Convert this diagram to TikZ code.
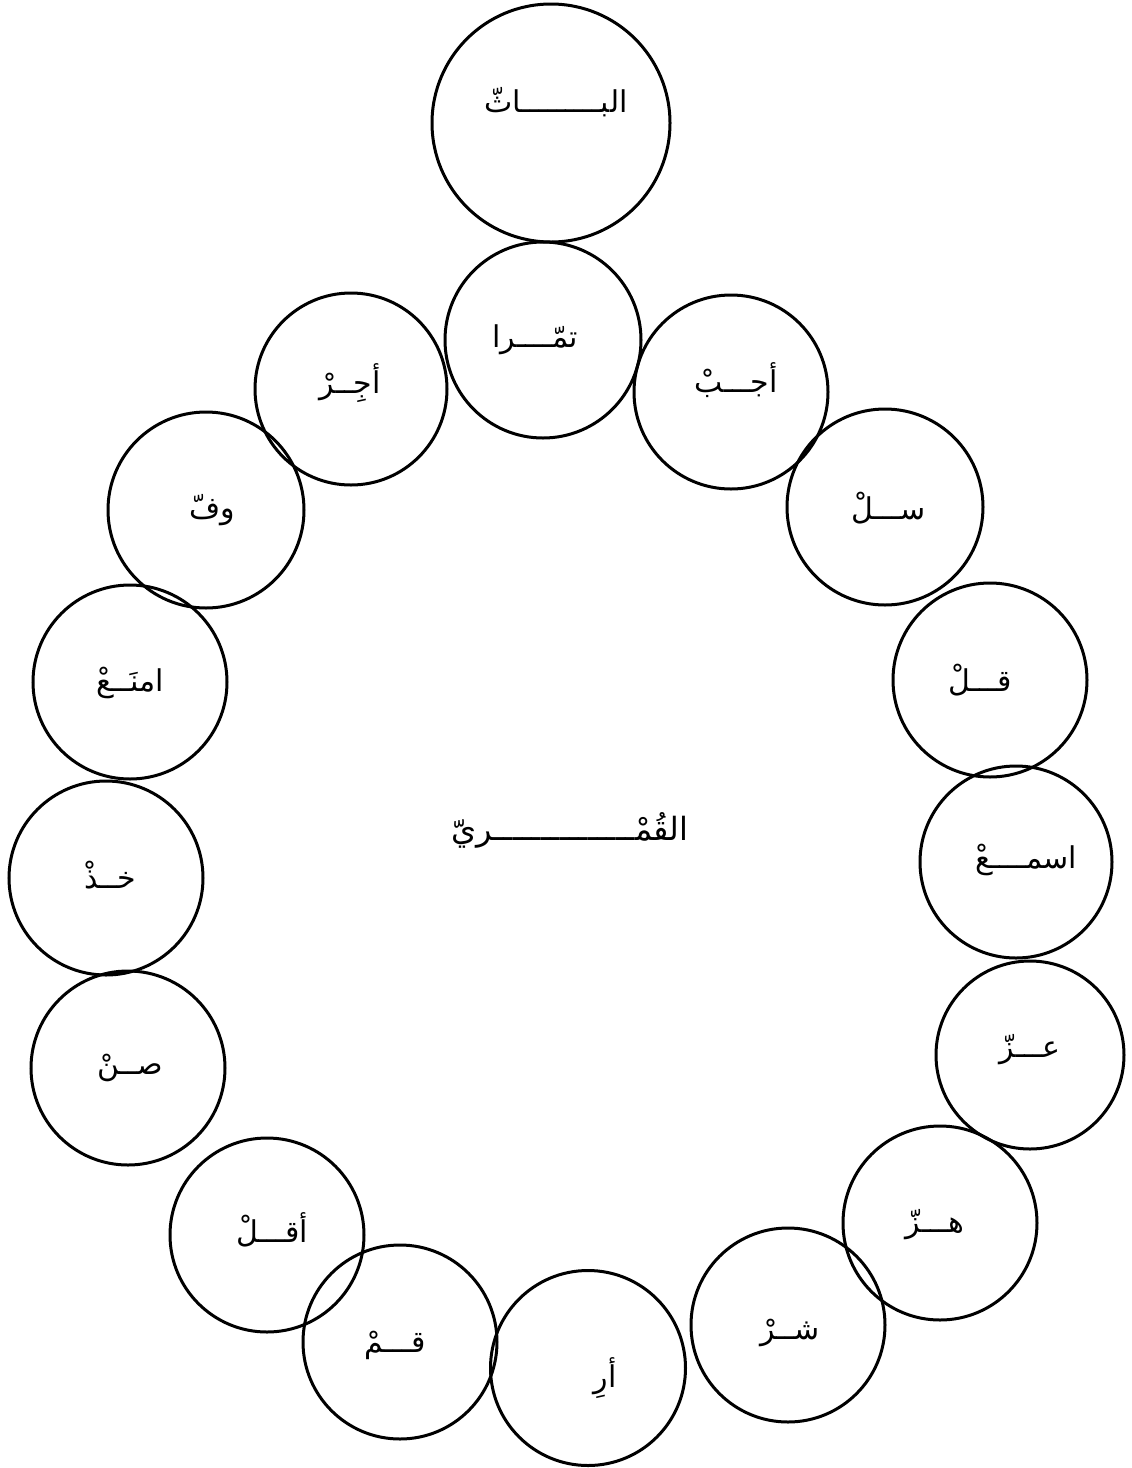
\documentclass[tikz,border=0pt]{standalone}
\usepackage{fontspec}
\newfontfamily\arabicfont[Script=Arabic]{DejaVu Sans}
\TeXXeTstate=1
\begin{document}
\begin{tikzpicture}[x=1pt,y=-1pt,
  ring/.style={draw=black, line width=3pt, circle, inner sep=0pt, minimum size=#1},
  ring/.default=194pt,
  word/.style={font=\arabicfont\fontsize{30}{34}\selectfont, inner sep=0pt}]
\useasboundingbox (0,0) rectangle (1132,1468);
\fill[white] (0,0) rectangle (1132,1468);
% circles
\node[ring=238pt] (c1) at (551,123) {};
\node[ring=196pt] (c2) at (543,340) {};
\node[ring=192pt] (c3) at (351,389) {};
\node[ring=194pt] (c4) at (731,392) {};
\node[ring=196pt] (c5) at (206,510) {};
\node[ring=196pt] (c6) at (885,507) {};
\node[ring=194pt] (c7) at (130,682) {};
\node[ring=194pt] (c8) at (990,680) {};
\node[ring=194pt] (c9) at (106,878) {};
\node[ring=192pt] (c10) at (1016,862) {};
\node[ring=194pt] (c11) at (128,1068) {};
\node[ring=188pt] (c12) at (1030,1055) {};
\node[ring=194pt] (c13) at (267,1235) {};
\node[ring=194pt] (c14) at (940,1223) {};
\node[ring=194pt] (c15) at (400,1342) {};
\node[ring=195pt] (c16) at (588,1368) {};
\node[ring=194pt] (c17) at (788,1325) {};
% words
\node[word] (t1) at (556,102) {\beginR البـــــــــاثّ\endR};
\node[word] (t2) at (535,340) {\beginR تمّــــرا\endR};
\node[word] (t3) at (350,383) {\beginR أجِــرْ\endR};
\node[word] (t4) at (736,380) {\beginR أجـــبْ\endR};
\node[word] (t5) at (212,510) {\beginR وفّ\endR};
\node[word] (t6) at (889,508) {\beginR ســـلْ\endR};
\node[word] (t7) at (130,683) {\beginR امنَــعْ\endR};
\node[word] (t8) at (980,680) {\beginR قـــلْ\endR};
\node[word] (t9) at (110,875) {\beginR خــذْ\endR};
\node[word] (t10) at (1026,860) {\beginR اسمــــعْ\endR};
\node[word] (t11) at (130,1068) {\beginR صــنْ\endR};
\node[word] (t12) at (1030,1050) {\beginR عـــزّ\endR};
\node[word] (t13) at (272,1230) {\beginR أقـــلْ\endR};
\node[word] (t14) at (935,1225) {\beginR هـــزّ\endR};
\node[word] (t15) at (395,1345) {\beginR قـــمْ\endR};
\node[word] (t16) at (605,1378) {\beginR أرِ\endR};
\node[word] (t17) at (790,1333) {\beginR شــرْ\endR};
\node[word, font=\arabicfont\fontsize{32}{36}\selectfont] (centre) at (570,830) {\beginR القُمْـــــــــــــــريّ\endR};
\end{tikzpicture}
\end{document}
